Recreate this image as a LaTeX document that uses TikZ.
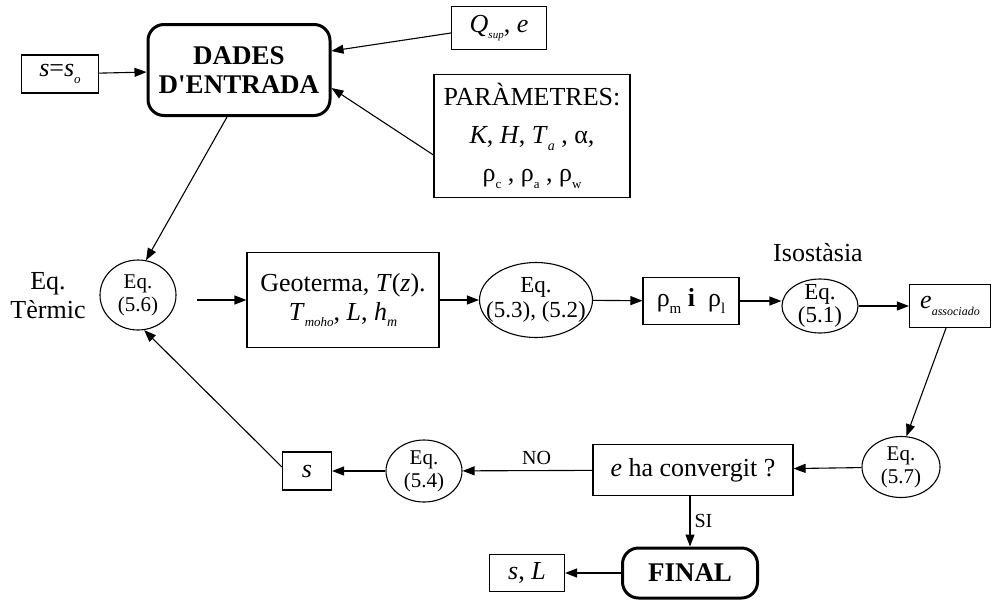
\documentclass[tikz,border=0pt]{standalone}
\usepackage{fontspec}
\setmainfont{Liberation Serif}
\usetikzlibrary{shapes.geometric,arrows.meta}
\newcommand\subi[2][11]{\raisebox{-0.25em}{\fontsize{#1}{#1}\selectfont\itshape #2}}
\newcommand\subr[2][12]{\raisebox{-0.25em}{\fontsize{#1}{#1}\selectfont #2}}
\begin{document}
\begin{tikzpicture}[x=1pt,y=-1pt,
  every node/.style={inner sep=0pt, align=center},
  box/.style={draw, line width=1.1pt, font=\fontsize{26}{29}\selectfont},
  bigbox/.style={draw, line width=3pt, rounded corners=16pt, font=\fontsize{27}{29}\selectfont\bfseries},
  ell/.style={draw, ellipse, line width=1.1pt},
  elltxt/.style={font=\fontsize{21}{23}\selectfont},
  lbl/.style={font=\fontsize{26}{29}\selectfont},
  small/.style={font=\fontsize{20}{22}\selectfont},
  arr/.style={draw, line width=1.1pt, -{Triangle[length=12pt,width=9pt]}}
]
\useasboundingbox (0,0) rectangle (992,603);

% nodes
\node[box, minimum width=77pt, minimum height=38pt] (s0) at (60,74) {\textit{s}=\textit{s}\subi[13]{o}};
\node[bigbox, minimum width=182pt, minimum height=91pt] (dades) at (239,70) {DADES\\D\textquotesingle ENTRADA};
\node[box, minimum width=95pt, minimum height=43pt] (q) at (499,28) {\textit{Q}\subi[11]{sup}, \textit{e}};
\node[box, minimum width=196pt, minimum height=123pt, font=\fontsize{26}{38}\selectfont] (par) at (532,136)
  {PARÀMETRES:\\\textit{K}, \textit{H}, \textit{T}\subi[14]{a} , α,\\ρ\subr[13]{c} , ρ\subr[13]{a} , ρ\subr[13]{w}};

\node[lbl] (termic) at (48,296) {Eq.\\Tèrmic};
\node[ell, minimum width=76pt, minimum height=70pt,
  label={[elltxt]center:Eq.\\(5.6)}] (e56) at (138,295) {};
\node[box, minimum width=192pt, minimum height=95pt] (geo) at (343,300)
  {Geoterma, \textit{T}(\textit{z}).\\\textit{T}\subi[13]{moho}, \textit{L}, \textit{h}\subi[14]{m}};
\node[ell, minimum width=113pt, minimum height=75pt,
  label={[font=\fontsize{23}{25}\selectfont]center:Eq.\\(5.3), (5.2)}] (e53) at (536,300) {};
\node[box, minimum width=96pt, minimum height=47pt] (rho) at (691,301)
  {ρ\subr[15]{m} \textbf{i}~~ρ\subr[15]{l}};
\node[lbl] (iso) at (818,253) {Isostàsia};
\node[ell, minimum width=76pt, minimum height=54pt,
  label={[font=\fontsize{23}{23}\selectfont]center:Eq.\\(5.1)}] (e51) at (820,306) {};
\node[box, minimum width=81pt, minimum height=43pt] (ea) at (950,306) {\textit{e}\subi[12]{associado}};

\node[ell, minimum width=78pt, minimum height=61pt,
  label={[elltxt]center:Eq.\\(5.7)}] (e57) at (901,467) {};
\node[box, minimum width=200pt, minimum height=51pt] (conv) at (693,470) {\textit{e} ha convergit ?};
\node[ell, minimum width=76pt, minimum height=62pt,
  label={[elltxt]center:Eq.\\(5.4)}] (e54) at (424,471) {};
\node[box, minimum width=49pt, minimum height=38pt] (s) at (307,471) {\textit{s}};
\node[bigbox, minimum width=135pt, minimum height=50pt] (final) at (690,573) {FINAL};
\node[box, minimum width=75pt, minimum height=37pt] (sl) at (527,573) {\textit{s}, \textit{L}};

\coordinate (g0) at (197,300);

% connectors
\draw[arr] (s0) -- (dades);
\draw[arr] ([yshift=-5pt]q.west) -- ([yshift=19pt]dades.east);
\draw[arr] ([yshift=-19pt]par.west) -- ([yshift=-18pt]dades.east);
\draw[arr] ([xshift=-12pt]dades.south) -- (e56.77);
\draw[arr] (g0) -- (geo);
\draw[arr] (geo) -- (e53);
\draw[arr] (e53) -- (rho);
\draw[arr] (rho.east) -- (rho.east -| e51.west);
\draw[arr] (e51) -- (ea);
\draw[arr] ([xshift=-4pt]ea.south) -- (e57.80);
\draw[arr] (e57) -- (conv);
\draw[arr] (conv) -- node[pos=0.43, above=5pt, small] {NO} (e54);
\draw[arr] (e54) -- (s);
\draw[arr] ([yshift=4pt]s.west) -- (e56.-80);
\draw[arr] (final.north |- conv.south) -- node[right=4pt, small] {SI} (final.north);
\draw[arr] (final) -- (sl);
\end{tikzpicture}
\end{document}
